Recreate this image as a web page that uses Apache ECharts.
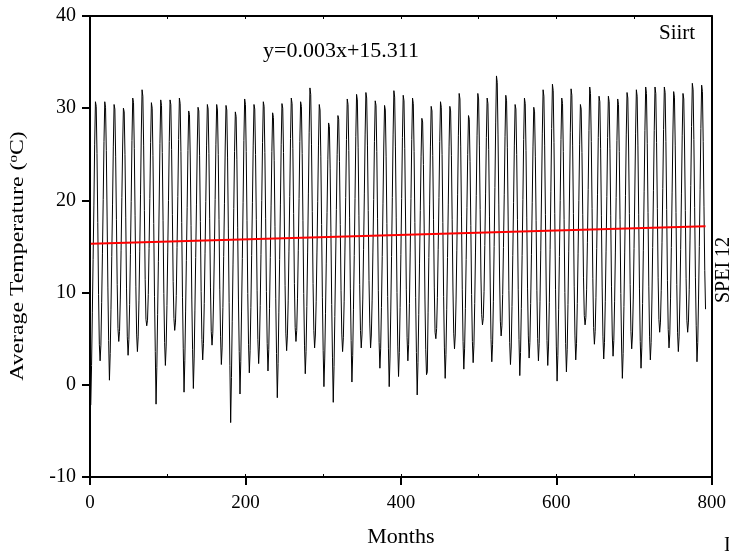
<!DOCTYPE html>
<html><head><meta charset="utf-8">
<script src="https://cdn.jsdelivr.net/npm/echarts@6/dist/echarts.min.js"></script>
<style>html,body{margin:0;padding:0;background:#fff}#c{width:729px;height:553px}</style>
</head><body><div id="c"></div><script>
// Monthly average temperature (°C), Siirt, month 1..792
const temps01_10 = [
-2.2,2.1,7.8,13.6,19.4,26.1,30.7,30.2,25.1,17.6,9.8,4.4,
2.6,4.3,8.9,14.2,20.1,26.4,30.7,30.1,25.4,18.2,10.6,4.8,
0.5,3.4,8.2,13.9,19.6,25.8,30.4,29.9,24.8,17.9,10.9,6.1,
4.7,5.8,9.3,14.6,20.3,25.9,30.0,29.6,25.0,18.1,10.4,5.2,
3.2,4.9,8.7,14.1,19.9,26.5,31.1,30.6,25.6,18.4,10.7,5.5,
3.6,5.2,9.1,14.5,20.6,27.2,32.0,31.3,26.0,18.9,11.4,7.1,
6.4,7.0,9.8,14.8,20.2,26.3,30.6,30.0,24.9,17.5,9.6,3.6,
-2.1,1.9,7.6,13.4,19.5,26.2,30.9,30.3,25.2,17.8,9.9,4.6,
2.1,4.2,8.6,14.3,20.0,26.4,30.9,30.4,25.5,18.5,11.2,7.2,
5.9,6.8,9.7,14.9,20.4,26.6,31.1,30.5,25.3,17.6,9.5,3.9];
const temps11_20 = [
-0.8,2.6,7.9,13.5,19.2,25.4,29.7,29.3,24.6,17.3,9.3,3.8,
-0.4,2.9,8.1,13.8,19.6,25.9,30.1,29.7,24.9,17.7,10.1,4.9,
2.7,4.5,8.8,14.2,19.9,26.0,30.4,29.9,25.1,18.0,10.6,5.8,
4.3,5.6,9.2,14.4,20.1,26.1,30.4,29.8,25.0,17.9,10.3,5.2,
2.2,4.0,8.4,13.9,19.7,25.9,30.3,29.8,24.7,17.0,8.9,2.1,
-4.1,0.8,6.9,13.0,19.1,25.3,29.6,29.1,24.4,17.1,9.2,3.6,
-1.0,2.5,8.0,13.7,19.8,26.5,31.0,30.4,25.3,17.8,9.9,4.4,
1.3,3.7,8.4,14.0,19.8,26.0,30.4,29.9,25.0,17.9,10.2,4.9,
2.3,4.2,8.6,14.1,20.0,26.3,30.7,30.2,25.2,18.0,10.1,4.5,
1.5,3.8,8.3,13.8,19.4,25.3,29.5,29.0,24.3,17.2,9.4,3.4];
const temps21_30 = [
-1.4,2.3,7.8,13.6,19.6,26.1,30.5,30.0,25.2,18.2,10.8,5.6,
3.7,5.3,9.1,14.5,20.4,26.7,31.1,30.5,25.6,18.6,11.0,6.2,
4.7,5.9,9.4,14.6,20.2,26.4,30.7,30.2,25.1,17.8,9.9,4.3,
1.2,3.6,8.5,14.3,20.7,27.4,32.2,31.5,26.1,18.8,11.0,5.9,
4.0,5.4,9.0,14.3,19.9,26.0,30.4,29.8,24.8,17.4,9.5,3.7,
-0.2,2.8,7.7,13.2,18.7,24.4,28.4,28.0,23.5,16.5,8.7,3.0,
-1.9,2.0,7.4,13.1,19.0,25.0,29.2,28.8,24.2,17.4,10.2,5.5,
3.6,5.1,9.0,14.4,20.3,26.6,31.0,30.4,25.4,18.1,10.4,4.8,
0.3,3.2,8.2,14.0,20.2,26.9,31.5,30.9,25.7,18.4,10.9,5.9,
4.0,5.5,9.3,14.7,20.7,27.1,31.7,31.1,26.0,18.9,11.3,6.6];
const temps31_40 = [
4.0,5.4,9.1,14.4,20.1,26.4,30.8,30.3,25.3,18.0,10.2,4.6,
1.8,3.9,8.4,13.9,19.7,25.9,30.3,29.8,24.8,17.5,9.6,3.9,
-0.2,2.9,8.0,13.9,20.3,27.1,31.9,31.2,25.8,18.1,10.0,4.2,
0.9,3.5,8.4,14.1,20.2,26.8,31.4,30.8,25.6,18.2,10.3,5.1,
2.6,4.4,8.8,14.3,20.2,26.6,31.1,30.5,25.3,17.6,9.5,3.5,
-1.1,2.4,7.6,13.2,18.9,24.8,28.9,28.5,23.9,16.9,9.2,3.8,
1.1,1.4,7.8,13.8,19.6,25.8,30.2,29.7,24.9,17.9,10.6,5.7,
5.0,6.1,9.5,14.7,20.3,26.4,30.7,30.1,25.0,17.6,9.6,4.0,
0.7,3.3,8.2,13.8,19.6,25.8,30.2,29.7,24.9,17.9,10.5,5.6,
3.9,5.4,9.2,14.6,20.6,27.0,31.6,31.0,25.8,18.3,10.3,4.7];
const temps41_50 = [
1.7,3.9,8.3,13.6,19.2,25.0,29.2,28.8,24.2,17.3,9.8,4.7,
2.4,4.3,8.8,14.4,20.5,27.0,31.6,31.0,26.0,19.0,11.8,7.6,
6.5,7.2,10.1,15.1,20.7,26.8,31.1,30.5,25.5,18.3,10.5,4.9,
2.5,4.4,9.0,15.0,21.4,28.4,33.5,32.8,27.1,19.6,11.8,6.9,
5.3,6.4,9.8,14.9,20.6,26.9,31.4,30.8,25.7,18.2,10.2,4.6,
2.2,4.1,8.5,14.0,19.8,26.0,30.4,29.9,25.0,17.9,10.3,4.9,
1.0,3.5,8.3,14.0,20.1,26.6,31.1,30.5,25.4,18.1,10.4,5.3,
2.9,4.6,8.8,14.1,19.8,25.8,30.1,29.6,24.8,17.8,10.2,5.0,
2.6,4.5,9.0,14.6,20.8,27.3,32.0,31.3,26.0,18.5,10.5,4.8,
2.1,4.2,8.9,14.7,21.0,27.8,32.6,31.9,26.3,18.6,10.3,4.2];
const temps51_60 = [
0.4,3.2,8.2,13.9,20.0,26.6,31.1,30.5,25.3,17.9,10.0,4.5,
1.4,3.8,8.7,14.5,20.8,27.4,32.1,31.4,26.0,18.6,10.7,5.3,
2.7,4.5,8.8,14.2,20.0,26.1,30.4,29.9,25.2,18.5,11.6,7.5,
6.5,7.3,10.3,15.4,21.2,27.6,32.3,31.6,26.4,19.1,11.5,6.2,
4.4,5.8,9.5,14.8,20.6,26.8,31.3,30.7,25.6,18.4,10.6,5.2,
2.8,4.6,9.0,14.5,20.4,26.8,31.3,30.7,25.6,18.4,10.7,5.4,
3.1,4.8,9.0,14.4,20.3,26.5,31.0,30.4,25.3,17.9,9.9,4.1,
0.7,3.4,8.5,14.3,20.5,27.1,31.7,31.1,25.9,18.6,10.9,5.8,
3.9,5.4,9.3,14.8,20.8,27.3,32.0,31.3,26.0,18.5,10.4,4.7,
1.8,4.0,8.8,14.6,21.0,27.6,32.3,31.6,26.2,18.7,10.7,5.2];
const temps61_66 = [
2.7,4.6,9.2,14.9,21.1,27.6,32.3,31.6,26.3,19.1,11.6,7.1,
5.7,6.8,10.2,15.4,21.3,27.7,32.3,31.7,26.4,19.0,11.3,6.0,
4.0,5.5,9.4,14.9,20.9,27.2,31.8,31.2,26.0,18.7,10.9,5.7,
3.6,5.2,9.2,14.7,20.7,27.0,31.6,31.0,25.9,18.9,11.5,7.0,
5.7,6.8,10.3,15.6,21.6,28.0,32.7,32.0,26.6,19.2,11.6,6.4,
2.5,4.6,9.3,15.0,21.2,27.8,32.5,31.8,26.4,19.3,12.4,8.2];

// Trend line end points (month, °C) as drawn
const trendMonths = [1, 792];
const trendTemps = [15.311, 17.2];

const xTickMin = 0, xTickMax = 800, xTickStep = 200;
const yTickMin = -10, yTickMax = 40, yTickStep = 10;

const temps = [].concat(temps01_10, temps11_20, temps21_30, temps31_40, temps41_50, temps51_60, temps61_66);
const tempData = temps.map((v, i) => [i + 1, v]);
const trendData = trendMonths.map((m, i) => [m, trendTemps[i]]);

const FONT = '"Liberation Serif", "Times New Roman", serif';
const chart = echarts.init(document.getElementById('c'), null, {renderer: 'canvas'});
chart.setOption({
  animation: false,
  backgroundColor: '#fff',
  grid: {left: 90, right: 13, top: 16, bottom: 71, containLabel: false},
  xAxis: [{
    type: 'value', min: xTickMin, max: xTickMax, interval: xTickStep,
    name: 'Months', nameLocation: 'middle', nameGap: 49,
    nameTextStyle: {fontFamily: FONT, fontSize: 22, color: '#000'},
    axisLine: {show: true, onZero: false, lineStyle: {color: '#000', width: 2}},
    axisTick: {show: true, inside: false, length: 8, lineStyle: {color: '#000', width: 2}},
    axisLabel: {fontFamily: FONT, fontSize: 19, color: '#000', margin: 17},
    splitLine: {show: false}
  }, {
    type: 'value', position: 'top', min: xTickMin, max: xTickMax, interval: 100,
    axisLine: {show: true, onZero: false, lineStyle: {color: '#000', width: 2}},
    axisTick: {show: true, inside: true, length: 3, lineStyle: {color: '#000', width: 1}},
    axisLabel: {show: false}, splitLine: {show: false}
  }, {
    type: 'value', position: 'bottom', min: xTickMin, max: xTickMax, interval: 100,
    axisLine: {show: false, onZero: false},
    axisTick: {show: true, inside: true, length: 3, lineStyle: {color: '#000', width: 1}},
    axisLabel: {show: false}, splitLine: {show: false}
  }],
  yAxis: [{
    type: 'value', min: yTickMin, max: yTickMax, interval: yTickStep,
    axisLine: {show: true, onZero: false, lineStyle: {color: '#000', width: 2}},
    axisTick: {show: true, inside: false, length: 8, lineStyle: {color: '#000', width: 2}},
    axisLabel: {fontFamily: FONT, fontSize: 20, color: '#000', margin: 14},
    splitLine: {show: false}
  }, {
    type: 'value', position: 'right', min: yTickMin, max: yTickMax, interval: yTickStep,
    axisLine: {show: true, onZero: false, lineStyle: {color: '#000', width: 2}},
    axisTick: {show: false}, axisLabel: {show: false}, splitLine: {show: false}
  }],
  series: [{
    type: 'line', xAxisIndex: 0, yAxisIndex: 0, data: tempData,
    showSymbol: false, symbol: 'none', smooth: false,
    lineStyle: {color: '#000', width: 1}, z: 2, silent: true
  }, {
    type: 'line', xAxisIndex: 0, yAxisIndex: 0, data: trendData,
    showSymbol: false, symbol: 'none',
    lineStyle: {color: '#ff0000', width: 2}, z: 3, silent: true
  }],
  graphic: [
    {type: 'text', x: 18, y: 256, rotation: Math.PI / 2, scaleX: 1.25, scaleY: 1,
      style: {text: 'Average Temperature ({sup|o}C)', font: '19px ' + FONT, fill: '#000',
        align: 'center', verticalAlign: 'middle',
        rich: {sup: {font: '12px ' + FONT, fill: '#000', padding: [0, 0, 9, 0]}}}},
    {type: 'text', left: 263, top: 40, style: {text: 'y=0.003x+15.311', font: '22px ' + FONT, fill: '#000'}},
    {type: 'text', left: 659, top: 23, style: {text: 'Siirt', font: '21px ' + FONT, fill: '#000'}},
    {type: 'text', x: 714, y: 270, rotation: Math.PI / 2,
      style: {text: 'SPEI 12', font: '20px ' + FONT, fill: '#000', align: 'center', verticalAlign: 'top'}},
    {type: 'text', x: 724, y: 536, style: {text: 'I', font: '20px ' + FONT, fill: '#000'}}
  ]
});
</script></body></html>
